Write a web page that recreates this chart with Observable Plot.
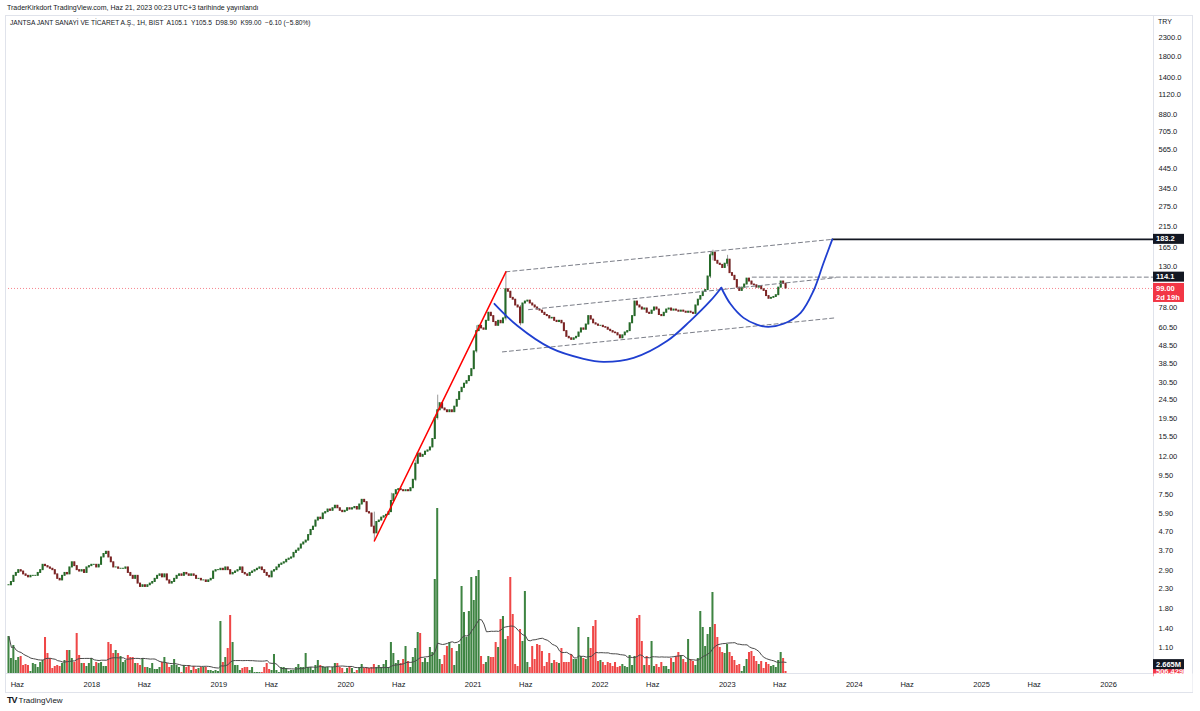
<!DOCTYPE html>
<html><head><meta charset="utf-8">
<script src="https://cdn.jsdelivr.net/npm/d3@7"></script>
<script src="https://cdn.jsdelivr.net/npm/@observablehq/plot@0.6"></script>
<style>
html,body{margin:0;padding:0;background:#fff;}
#wrap{position:relative;width:1200px;height:711px;overflow:hidden;font-family:"Liberation Sans",Arial,sans-serif;color:#131722;}
#wrap svg{position:absolute;left:0;top:0;}
.hdr{position:absolute;font-size:7px;white-space:pre;line-height:8px;}
</style></head><body><div id="wrap"></div>
<script>
// ---- data (weekly candles, last week starts 2023-06-19) ----
const lastWeekStart = "2023-06-19";
const closes = [
2.4,2.5,2.7,2.8,2.9,2.85,2.75,2.7,2.65,2.7,
2.7,2.7,2.8,2.9,3.1,3.05,3.0,2.95,2.9,2.75,
2.6,2.55,2.7,2.8,2.75,3.0,3.2,3.05,2.9,2.85,
2.9,2.8,3.0,3.05,3.1,3.1,3.0,3.1,3.4,3.55,
3.65,3.4,3.2,3.0,3.0,2.95,2.95,2.95,3.0,2.8,
2.7,2.6,2.7,2.45,2.35,2.4,2.35,2.4,2.45,2.5,
2.6,2.7,2.75,2.65,2.75,2.55,2.45,2.5,2.6,2.7,
2.75,2.7,2.8,2.75,2.7,2.75,2.7,2.6,2.6,2.55,
2.55,2.5,2.55,2.6,2.85,2.9,2.9,2.95,2.9,3.0,
2.9,2.75,2.8,2.85,2.9,3.0,2.8,2.75,2.7,2.8,
2.85,2.9,2.95,3.0,2.9,2.8,2.7,2.65,2.85,2.9,
3.0,3.1,3.15,3.2,3.3,3.35,3.4,3.6,3.7,3.8,
4.0,4.1,4.2,4.5,4.8,5.0,5.4,5.6,5.5,5.9,
6.0,6.2,6.1,6.3,6.5,6.3,6.1,6.0,6.1,6.3,
6.2,6.3,6.4,6.2,6.6,7.0,6.8,6.0,5.9,5.0,
4.6,5.3,5.4,5.6,5.7,5.8,6.0,6.9,7.5,7.9,
8.0,7.9,7.8,7.9,7.8,8.1,9.0,11.0,12.5,12.0,
12.3,12.8,13.0,13.5,15.0,19.5,21.5,23.5,22.0,21.5,
21.0,21.5,21.0,22.5,24.5,27.0,28.5,30.0,31.0,33.0,
36.0,45.0,58.0,62.0,60.0,59.0,66.0,73.0,70.0,65.0,
62.0,66.0,64.0,68.0,98.0,95.0,88.0,86.0,80.0,78.0,
64.0,82.0,84.0,85.0,82.0,80.0,78.0,76.0,75.0,73.0,
71.0,70.0,68.0,68.5,66.0,65.0,66.0,64.0,58.0,54.0,
53.0,52.0,53.0,54.0,57.0,60.0,59.0,63.0,70.0,67.0,
64.0,63.0,62.0,62.0,61.0,60.5,59.0,58.0,57.0,56.5,
55.0,53.0,55.0,57.0,58.0,64.0,70.0,84.0,80.0,78.0,
76.0,77.0,73.0,72.0,75.0,78.0,76.0,71.0,70.0,73.0,
76.0,77.0,75.0,76.0,75.0,74.0,75.0,74.0,73.0,74.0,
73.0,72.0,80.0,86.0,90.0,95.0,97.0,115.0,150.0,155.0,
140.0,135.0,133.0,128.0,135.0,142.0,120.0,116.0,110.0,100.0,
96.0,100.0,104.0,112.0,108.0,104.0,103.0,100.0,102.0,98.0,
96.0,90.0,87.0,88.0,89.0,91.0,100.0,108.0,105.0,99.0
];
// weekly volume, millions
const volumes = [
11.1,4.5,8.4,3.9,4.8,5.1,2.4,2.7,2.4,0.6,
3.0,2.7,1.8,3.3,3.9,10.8,6.0,4.5,1.5,2.1,
2.4,2.1,3.0,3.9,6.9,6.9,4.5,3.3,12.0,5.4,
3.0,3.0,2.1,3.0,4.5,2.1,3.3,3.0,3.3,2.1,
2.1,9.3,8.7,6.0,6.9,6.0,5.1,3.3,3.9,5.4,
4.8,4.8,3.0,3.0,2.4,4.5,1.8,1.8,1.5,3.0,
1.2,1.2,1.8,3.3,4.8,3.0,1.8,2.4,4.2,2.4,
1.8,0.3,2.4,1.8,2.4,0.9,2.1,1.2,1.5,1.8,
1.8,1.8,0.9,0.9,0.6,0.9,0.6,15.6,3.3,4.8,
7.5,17.4,9.3,2.4,2.4,0.9,1.5,1.8,1.8,
0.9,1.8,0.3,0.3,0.3,0.3,1.8,3.0,1.2,0.9,
5.7,0.9,0.3,1.8,1.8,1.5,0.6,0.9,0.9,1.8,
2.7,1.8,1.8,6.0,1.8,1.8,0.9,2.4,3.9,2.4,
2.1,1.8,1.8,0.9,1.8,3.0,3.0,1.8,1.5,0.3,
1.5,1.8,1.5,0.3,0.9,1.8,2.7,1.5,1.8,1.5,
1.8,2.7,1.8,2.4,1.8,2.7,3.9,1.8,9.3,6.0,
3.0,3.9,3.0,
4.2,8.1,3.6,1.8,4.8,7.5,12.3,12.0,3.3,4.5,
3.3,7.8,6.3,28.2,49.5,4.2,2.7,5.4,8.1,9.3,
7.5,2.4,6.6,8.7,26.1,18.3,10.8,18.6,28.8,
21.9,29.1,30.9,5.1,2.7,3.3,5.1,4.8,4.8,9.3,
7.8,16.2,17.1,10.2,11.1,28.8,17.7,2.7,2.1,13.2,
9.6,24.6,3.3,1.8,8.1,4.2,8.7,8.4,6.6,2.1,
3.3,6.0,3.0,3.9,3.3,3.0,7.5,3.3,
3.3,3.3,5.7,4.2,4.2,13.8,5.1,4.5,4.2,10.8,
7.5,14.1,15.9,3.6,3.9,3.3,2.4,3.3,3.0,2.1,
3.3,1.8,2.1,2.7,2.1,1.8,5.4,2.4,5.1,
16.5,17.4,9.6,2.4,5.1,2.4,9.6,2.1,2.7,
1.8,3.3,2.1,2.1,1.2,4.5,3.3,5.1,6.3,
5.4,4.2,3.3,10.2,4.2,3.6,2.4,4.5,18.6,
13.8,8.1,11.7,13.8,24.3,14.7,10.8,7.8,6.3,6.0,
8.7,6.3,5.1,3.9,2.4,2.7,0.6,2.1,
4.2,6.3,6.6,5.1,3.6,2.7,3.6,1.5,3.3,2.7,
2.1,2.4,1.8,3.9,6.3,4.5,0.6
];
// notable wicks: candle index, high, low
const wickIdx  = [150, 157, 167, 176, 192, 204, 210, 288, 289, 295];
const wickHigh = [6.0, 7.6, 11.5, 26.0, 62.0, 122.0, 80.0, 155.0, 160.0, 150.0];
const wickLow  = [4.18, 6.8, 8.8, 19.0, 44.0, 66.0, 62.0, 112.0, 140.0, 130.0];

const yTicks = [2300,1800,1400,1120,880,705,565,445,345,275,215,165,130,78,60.5,48.5,38.5,30.5,24.5,19.5,15.5,12,9.5,7.5,5.9,4.7,3.7,2.9,2.3,1.8,1.4,1.1];
const xTickDates  = ["2017-06-01","2018-01-01","2018-06-01","2019-01-01","2019-06-01","2020-01-01","2020-06-01","2021-01-01","2021-06-01","2022-01-01","2022-06-01","2023-01-01","2023-06-01","2024-01-01","2024-06-01","2025-01-01","2025-06-01","2026-01-01"];
const xTickLabels = ["Haz","2018","Haz","2019","Haz","2020","Haz","2021","Haz","2022","Haz","2023","Haz","2024","Haz","2025","Haz","2026"];

// drawings (date, price)
const redLineDates = ["2020-03-23","2021-04-05"];
const redLineVals  = [4.18, 122];
const upperChDates = ["2021-04-05","2023-10-30"];
const upperChVals  = [122, 183.2];
const midChDates   = ["2021-06-09","2023-11-08"];
const midChVals    = [75.9, 113.3];
const lowChDates   = ["2021-03-26","2023-11-08"];
const lowChVals    = [44.7, 68.5];
const cupDates = ["2021-03-03","2021-05-08","2021-08-11","2021-11-14","2022-01-10","2022-04-07","2022-07-13","2022-09-17","2022-11-14","2022-12-15"];
const cupVals  = [81.7, 62.0, 47.0, 41.0, 39.5, 41.5, 51.4, 66.0, 84.9, 99.9];
const handleDates = ["2022-12-15","2023-01-10","2023-02-17","2023-03-29","2023-04-29","2023-06-12","2023-07-31","2023-09-06","2023-10-04","2023-10-30"];
const handleVals  = [99.9, 81.7, 68.5, 62.8, 61.2, 63.6, 73.0, 96.2, 135, 183.2];
const targetLevel = 183.2, targetStart = "2023-10-30";
const resistLevel = 114.1, resistStart = "2023-03-14";
const lastPrice = 99.00;
const volMA = 2.665, lastVol = 0.506429;

// ---- build ----
const DAY = 864e5;
const xDomain = [new Date("2017-04-28"), new Date("2026-05-10")];
const yDomain = [0.794, 3030];
const N = closes.length;
const last = new Date(lastWeekStart);
const wickMap = new Map(wickIdx.map((k,i)=>[k,[wickHigh[i],wickLow[i]]]));
const candles = closes.map((c,i)=>{
  const date = new Date(+last - (N-1-i)*7*DAY);
  const open = i>0 ? closes[i-1] : c;
  const hi = Math.max(open,c), lo = Math.min(open,c);
  const w = wickMap.get(i);
  return {date, x1:new Date(+date-2.9*DAY), x2:new Date(+date+2.9*DAY), open, close:c,
    bodyLo:lo, bodyHi:hi, high: w?Math.max(w[0],hi):hi, low: w?Math.min(w[1],lo):lo,
    up: c>=open, vol: volumes[i]};
});
candles.forEach((d,i)=>{ d.ma = d3.mean(volumes.slice(Math.max(0,i-19), i+1)); });
const pts = (ds,vs)=>ds.map((d,i)=>({date:new Date(d), value:vs[i]}));
const labelMap = new Map(xTickDates.map((d,i)=>[+new Date(d), xTickLabels[i]]));
const fmtY = v => v>=100 ? v.toFixed(1) : v.toFixed(2);
const font = {fontFamily:'"Liberation Sans",Arial,sans-serif', fontSize:"7.5px", color:"#131722", background:"transparent"};

const common = {width:1200, height:711, marginLeft:5, marginRight:47, marginTop:15, marginBottom:38, style:font};

const volPlot = Plot.plot({
  ...common,
  x:{type:"utc", domain:xDomain, axis:null},
  y:{domain:[0,197.4], axis:null},
  marks:[
    Plot.rectY(candles,{x1:"x1", x2:"x2", y:"vol", fill:d=>d.up?"#2e7a32":"#ee3737", fillOpacity:0.92}),
    Plot.line(candles,{x:"date", y:"ma", stroke:"#4a4a4a", strokeWidth:1})
  ]
});

const dash = {stroke:"#7b7e88", strokeWidth:1, strokeDasharray:"4,3"};
const pricePlot = Plot.plot({
  ...common,
  x:{type:"utc", domain:xDomain},
  y:{type:"log", domain:yDomain, axis:null},
  marks:[
    Plot.frame({stroke:"#e0e3eb"}),
    Plot.ruleY([lastPrice],{stroke:"#f23645", strokeOpacity:0.6, strokeDasharray:"1,2"}),
    Plot.ruleX(candles,{x:"date", y1:"low", y2:"high", stroke:"#9b9b9b", strokeWidth:1}),
    Plot.rect(candles,{x1:"x1", x2:"x2", y1:"bodyLo", y2:"bodyHi", insetTop:-0.5, insetBottom:-0.5, fill:d=>d.up?"#256a28":"#7c2323"}),
    Plot.line(pts(upperChDates,upperChVals),{x:"date",y:"value",...dash}),
    Plot.line(pts(midChDates,midChVals),{x:"date",y:"value",...dash}),
    Plot.line(pts(lowChDates,lowChVals),{x:"date",y:"value",...dash}),
    Plot.line([{date:new Date(resistStart),value:resistLevel},{date:xDomain[1],value:resistLevel}],{x:"date",y:"value",...dash}),
    Plot.line([{date:new Date(targetStart),value:targetLevel},{date:xDomain[1],value:targetLevel}],{x:"date",y:"value",stroke:"#131722",strokeWidth:1.6}),
    Plot.line(pts(redLineDates,redLineVals),{x:"date",y:"value",stroke:"#ff0000",strokeWidth:1.5}),
    Plot.line(pts(cupDates,cupVals),{x:"date",y:"value",stroke:"#1f3fd0",strokeWidth:1.8,curve:"catmull-rom"}),
    Plot.line(pts(handleDates,handleVals),{x:"date",y:"value",stroke:"#1f3fd0",strokeWidth:1.8,curve:"catmull-rom"}),
    Plot.text(yTicks,{y:d=>d, frameAnchor:"right", dx:5, textAnchor:"start", text:fmtY, fill:"#131722", fontSize:7.5}),
    Plot.axisX(xTickDates.map(d=>new Date(d)),{anchor:"bottom", tickSize:0, tickPadding:8, tickFormat:d=>labelMap.get(+d), fill:"#131722", fontSize:7.5, label:null})
  ]
});

const wrap = document.getElementById("wrap");
wrap.appendChild(pricePlot);
wrap.appendChild(volPlot);
volPlot.style.pointerEvents="none";

// overlay frame & value labels (positions from the scales)
const ov = d3.select(wrap).append("svg").attr("width",1200).attr("height",711).style("position","absolute").style("left",0).style("top",0);
ov.append("rect").attr("x",5.5).attr("y",15.5).attr("width",1187).attr("height",677).attr("fill","none").attr("stroke","#e0e3eb");
const ys = pricePlot.scale("y"), yv = volPlot.scale("y");
const xr = 1153;
function tag(y, lines, fill){
  const h = 9*lines.length+1;
  ov.append("rect").attr("x",xr).attr("y",y-5).attr("width",31).attr("height",h).attr("fill",fill);
  lines.forEach((t,i)=>ov.append("text").attr("x",xr+3).attr("y",y+2.6+9*i).attr("fill","#fff")
    .attr("font-size",7.5).attr("font-weight","bold").attr("font-family",'"Liberation Sans",Arial,sans-serif').text(t));
}
tag(ys.apply(targetLevel), [targetLevel.toFixed(1)], "#131722");
tag(ys.apply(resistLevel), [resistLevel.toFixed(1)], "#131722");
tag(ys.apply(lastPrice), [lastPrice.toFixed(2), "2d 19h"], "#f23645");
tag(yv.apply(lastVol), [(lastVol*1000).toFixed(3)+"K"], "#f23645");
tag(yv.apply(volMA), [volMA.toFixed(3)+"M"], "#131722");
ov.append("rect").attr("x",xr+0.5).attr("y",673.5).attr("width",39).attr("height",18.5).attr("fill","#fff");
ov.append("text").attr("x",1158).attr("y",24).attr("font-size",7).attr("fill","#131722").attr("font-family",'"Liberation Sans",Arial,sans-serif').text("TRY");

// header / footer text
const h1 = document.createElement("div"); h1.className="hdr"; h1.style.left="7px"; h1.style.top="4px";
h1.textContent = "TraderKirkdort TradingView.com, Haz 21, 2023 00:23 UTC+3 tarihinde yayınlandı";
const h2 = document.createElement("div"); h2.className="hdr"; h2.style.left="10px"; h2.style.top="19px"; h2.style.fontSize="6.6px";
h2.textContent = "JANTSA JANT SANAYİ VE TİCARET A.Ş., 1H, BIST  A105.1  Y105.5  D98.90  K99.00  −6.10 (−5.80%)";
const f = document.createElement("div"); f.className="hdr"; f.style.left="7px"; f.style.top="696px"; f.style.fontSize="8px";
f.innerHTML = '<b style="font-size:9px;letter-spacing:-1px">TV</b> TradingView';
wrap.appendChild(h1); wrap.appendChild(h2); wrap.appendChild(f);
</script></body></html>
